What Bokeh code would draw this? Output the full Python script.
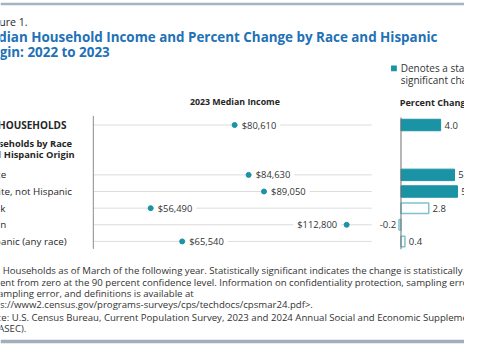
from bokeh.plotting import figure
from bokeh.models import Range1d, ColumnDataSource, Label, BoxAnnotation, Span
from bokeh.core.properties import value
from bokeh.embed import file_html
from bokeh.resources import INLINE

# ---------------- data ----------------
categories = ["ALL HOUSEHOLDS", "White", "White, not Hispanic", "Black", "Asian", "Hispanic (any race)"]
median_income = [80610, 84630, 89050, 56490, 112800, 65540]
pct_change = [4.0, 5.4, 5.7, 2.8, -0.2, 0.4]
significant = [True, True, True, False, False, False]
group_header = ["Households by Race", "and Hispanic Origin"]

figure_number = "Figure 1."
title_lines = ["Median Household Income and Percent Change by Race and Hispanic",
               "Origin: 2022 to 2023"]
legend_lines = ["Denotes a statistically", "significant change"]
income_title = "2023 Median Income"
pct_title = "Percent Change"
note_lines = [
    "Note: Households as of March of the following year. Statistically significant indicates the change is statistically",
    "different from zero at the 90 percent confidence level. Information on confidentiality protection, sampling error,",
    "nonsampling error, and definitions is available at",
    "<https://www2.census.gov/programs-surveys/cps/techdocs/cpsmar24.pdf>.",
    "Source: U.S. Census Bureau, Current Population Survey, 2023 and 2024 Annual Social and Economic Supplements",
    "(CPS ASEC).",
]

# ---------------- layout ----------------
W, H = 464, 344
REF_W, REF_H = 480, 360
SX, SY = W / REF_W, H / REF_H
FS = (SX + SY) / 2

INC_AXIS_X = 96.0
INC_LO, INC_HI = 40000, 120000
INC_PX = 288.0 / (INC_HI - INC_LO)
PCT_AXIS_X = 414.3
PCT_PX = 10.25
ROW_Y0 = 130.3
ROW_STEP = 17.4

TEAL = "#1a93a5"
TEAL_LIGHT = "#7cc3ce"
BLUE = "#2271b6"
DARK = "#262626"
GREY_TEXT = "#333333"
FONT = "Open Sans"
PAD = 4

rows = [0] + [3 + k for k in range(len(categories) - 1)]


def fs(px):
    return f"{px * FS:.1f}px"


def sy(y_ref):
    return (REF_H - y_ref) * SY


def row_of(y_ref):
    return (y_ref - ROW_Y0) / ROW_STEP


p = figure(width=W, height=H, output_backend="svg", toolbar_location=None,
           x_axis_type=None, y_axis_type=None, min_border=0,
           x_range=Range1d(INC_LO - INC_AXIS_X / INC_PX, INC_LO + (REF_W - INC_AXIS_X) / INC_PX),
           y_range=Range1d(row_of(REF_H), row_of(0)))
p.extra_x_ranges = {"pct": Range1d(-PCT_AXIS_X / PCT_PX, (REF_W - PCT_AXIS_X) / PCT_PX)}
p.outline_line_color = None
p.background_fill_color = "white"
p.border_fill_color = "white"


def add_label(x_ref, y_ref, text, size, style="normal", color=GREY_TEXT, align="left"):
    p.add_layout(Label(x=x_ref * SX, y=sy(y_ref), x_units="screen", y_units="screen",
                       text=text, text_font=FONT, text_font_size=fs(size), text_font_style=style,
                       text_color=color, text_align=align, text_baseline="middle"))


# frame lines (top and bottom rules of the figure)
p.add_layout(Span(location=row_of(3.6), dimension="width", line_color="#a3b4c6", line_width=2.4))
p.add_layout(Span(location=row_of(356.9), dimension="width", line_color="#a1afbd", line_width=3.6))

# titles
add_label(28, 23, figure_number, 11, color=DARK, align="right")
add_label(452, 38.5, title_lines[0], 13.9, style="bold", color=BLUE, align="right")
add_label(113, 53.5, title_lines[1], 13.9, style="bold", color=BLUE, align="right")

# legend
p.add_layout(BoxAnnotation(left=404 * SX, right=410 * SX, top=sy(68), bottom=sy(74),
                           left_units="screen", right_units="screen", top_units="screen", bottom_units="screen",
                           fill_color=TEAL, fill_alpha=1, line_color=None))
add_label(414, 71, legend_lines[0], 10.4)
add_label(414, 83, legend_lines[1], 10.4)

# panel headers
add_label(242.5, 106.7, income_title, 9.2, style="bold", color=DARK, align="center")
add_label(413, 107, pct_title, 9.5, style="bold", color=DARK)

# row labels
row_label_end = [68.3, 6, 74, 5, 6, 68.3]
for i, (cat, r) in enumerate(zip(categories, rows)):
    p.add_layout(Label(x=row_label_end[i] * SX, y=r, x_units="screen", y_units="data", text=cat,
                       text_font=FONT, text_font_size=fs(10.4 if i == 0 else 10.2),
                       text_font_style="bold" if i == 0 else "normal",
                       text_color=DARK, text_align="right", text_baseline="middle"))
add_label(74, 149.3, group_header[0], 9.7, style="bold", color=DARK, align="right")
add_label(76.7, 160.7, group_header[1], 9.7, style="bold", color=DARK, align="right")

# gridlines and axis line
p.segment(x0=INC_LO, x1=INC_HI, y0=rows, y1=rows, line_color="#dcdcdc", line_width=1)
p.segment(x0=INC_LO, x1=INC_LO, y0=rows[0] - 0.55, y1=rows[-1] + 0.45, line_color="#8a8a8a", line_width=1)

# income labels (white background breaks the gridline)
right_side = [(INC_AXIS_X + (v - INC_LO) * INC_PX) + 55 < INC_AXIS_X + 288 for v in median_income]
lab = [f"${v:,}" for v in median_income]
src_r = ColumnDataSource(dict(x=[v for v, s in zip(median_income, right_side) if s],
                              y=[r for r, s in zip(rows, right_side) if s],
                              t=[t for t, s in zip(lab, right_side) if s]))
src_l = ColumnDataSource(dict(x=[v for v, s in zip(median_income, right_side) if not s],
                              y=[r for r, s in zip(rows, right_side) if not s],
                              t=[t for t, s in zip(lab, right_side) if not s]))
common = dict(text="t", text_font=value(FONT), text_font_size=fs(9.8), text_color=GREY_TEXT,
              text_baseline="middle", background_fill_color="white", padding=(PAD, 0))
p.text(x="x", y="y", source=src_r, x_offset=7.3 * SX - PAD, text_align="left", **common)
p.text(x="x", y="y", source=src_l, x_offset=-9.8 * SX + PAD, text_align="right", **common)

p.scatter(x=median_income, y=rows, size=5, color=TEAL, line_color=TEAL)

# percent-change bars
bar_h = 12.0 / ROW_STEP
sig_src = ColumnDataSource(dict(y=[r for r, s in zip(rows, significant) if s],
                                v=[v for v, s in zip(pct_change, significant) if s]))
ns_src = ColumnDataSource(dict(y=[r for r, s in zip(rows, significant) if not s],
                               v=[v for v, s in zip(pct_change, significant) if not s]))
p.hbar(y="y", left=0, right="v", height=bar_h, source=sig_src, x_range_name="pct",
       fill_color=TEAL, line_color=TEAL, line_width=1)
p.hbar(y="y", left=0, right="v", height=bar_h - 0.06, source=ns_src, x_range_name="pct",
       fill_color="white", line_color=TEAL_LIGHT, line_width=1.5)
p.segment(x0=0, x1=0, y0=rows[0] - 0.45, y1=rows[-1] + 0.47, x_range_name="pct",
          line_color="#6f6f6f", line_width=1)

pos_src = ColumnDataSource(dict(x=[v for v in pct_change if v >= 0],
                                y=[r for r, v in zip(rows, pct_change) if v >= 0],
                                t=[f"{v:.1f}" for v in pct_change if v >= 0]))
neg_src = ColumnDataSource(dict(x=[v for v in pct_change if v < 0],
                                y=[r for r, v in zip(rows, pct_change) if v < 0],
                                t=[f"{v:.1f}" for v in pct_change if v < 0]))
pct_txt = dict(text="t", text_font=value(FONT), text_font_size=fs(9.9), text_color=GREY_TEXT,
               text_baseline="middle", x_range_name="pct")
p.text(x="x", y="y", source=pos_src, x_offset=4 * SX, text_align="left", **pct_txt)
p.text(x="x", y="y", source=neg_src, x_offset=-3 * SX, text_align="right", **pct_txt)

# notes
note_y = [283, 294.7, 306.3, 318, 331.5, 343]
for line, yy in zip(note_lines, note_y):
    add_label(-25.5, yy, line, 10.0)

open("out.html", "w").write(file_html(p, INLINE))
